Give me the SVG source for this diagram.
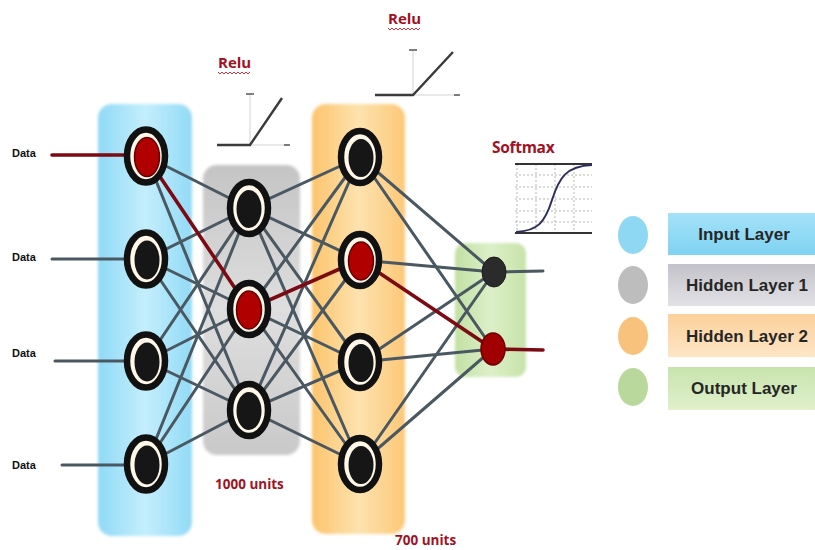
<svg xmlns="http://www.w3.org/2000/svg" width="815" height="550" viewBox="0 0 815 550">
  <defs>
    <linearGradient id="gBlue" x1="0" y1="0" x2="1" y2="0">
      <stop offset="0" stop-color="#8fd9f6"/>
      <stop offset="0.5" stop-color="#c4eefc"/>
      <stop offset="1" stop-color="#92daf6"/>
    </linearGradient>
    <linearGradient id="gGray" x1="0" y1="0" x2="0" y2="1">
      <stop offset="0" stop-color="#c4c4c4"/>
      <stop offset="0.5" stop-color="#dedede"/>
      <stop offset="1" stop-color="#c9c9c9"/>
    </linearGradient>
    <linearGradient id="gOrange" x1="0" y1="0" x2="1" y2="0">
      <stop offset="0" stop-color="#fcc46c"/>
      <stop offset="0.5" stop-color="#fde2ae"/>
      <stop offset="1" stop-color="#fcc878"/>
    </linearGradient>
    <linearGradient id="gGreen" x1="0" y1="0" x2="1" y2="0">
      <stop offset="0" stop-color="#c2e0a2"/>
      <stop offset="0.5" stop-color="#dcefc8"/>
      <stop offset="1" stop-color="#c6e2a8"/>
    </linearGradient>
    <linearGradient id="lBlue" x1="0" y1="0" x2="0" y2="1">
      <stop offset="0" stop-color="#a4e2f8"/>
      <stop offset="1" stop-color="#7fd2f2"/>
    </linearGradient>
    <linearGradient id="lGray" x1="0" y1="0" x2="0" y2="1">
      <stop offset="0" stop-color="#c2c2c8"/>
      <stop offset="1" stop-color="#e2e2e6"/>
    </linearGradient>
    <linearGradient id="lOrange" x1="0" y1="0" x2="0" y2="1">
      <stop offset="0" stop-color="#fcd09a"/>
      <stop offset="1" stop-color="#fde6c6"/>
    </linearGradient>
    <linearGradient id="lGreen" x1="0" y1="0" x2="0" y2="1">
      <stop offset="0" stop-color="#c8e4ac"/>
      <stop offset="1" stop-color="#e0f0cc"/>
    </linearGradient>
    <filter id="soft" x="-10%" y="-10%" width="120%" height="120%">
      <feGaussianBlur stdDeviation="1.5"/>
    </filter>
  </defs>
  <style>
    .edge { stroke: #4a5862; stroke-width: 3; fill: none; stroke-linecap: round; }
    .hot { stroke: #7c0a12; stroke-width: 3.6; fill: none; stroke-linecap: round; }
    .ring { fill: #fff7e8; stroke: #111; stroke-width: 6.5; }
    .core { fill: #161616; }
    .coreHot { fill: #b00000; stroke: #650000; stroke-width: 1.5; }
    .data { font-family: "Liberation Sans", Arial, sans-serif; font-size: 11px; font-weight: bold; fill: #111; }
    .note { font-family: "Open Sans", "Liberation Sans", sans-serif; font-weight: bold; fill: #a3111f; }
    .legend { font-family: "Liberation Sans", Arial, sans-serif; font-size: 17px; font-weight: bold; fill: #262626; text-anchor: middle; }
    .axis { stroke: #c8c8c8; stroke-width: 0.8; fill: none; }
    .curve { stroke: #3a3a3a; stroke-width: 2.4; fill: none; }
    .grid { stroke: #999; stroke-width: 0.7; stroke-dasharray: 2 2; fill: none; }
    .squig { stroke: #c0202a; stroke-width: 0.9; fill: none; }
  </style>

  <rect width="815" height="550" fill="#ffffff"/>

  <!-- layer panels -->
  <g id="panels">
    <rect id="panel-input" x="98" y="104" width="94" height="432" rx="14" fill="url(#gBlue)" filter="url(#soft)"/>
    <rect id="panel-hidden1" x="203" y="165" width="97" height="290" rx="14" fill="url(#gGray)" filter="url(#soft)"/>
    <rect id="panel-hidden2" x="312" y="104" width="93" height="430" rx="14" fill="url(#gOrange)" filter="url(#soft)"/>
    <rect id="panel-output" x="455" y="243" width="71" height="134" rx="10" fill="url(#gGreen)" filter="url(#soft)"/>
  </g>

  <!-- activation plots -->
  <g id="relu-1">
    <line class="axis" x1="250" y1="95" x2="250" y2="145"/>
    <line class="axis" x1="250" y1="145" x2="288" y2="145"/>
    <line x1="246" y1="94" x2="254" y2="94" stroke="#555" stroke-width="1.5"/>
    <line x1="284" y1="145" x2="290" y2="145" stroke="#555" stroke-width="1.5"/>
    <polyline class="curve" points="217,145 250,145 282,98"/>
  </g>
  <g id="relu-2">
    <line class="axis" x1="413" y1="50" x2="413" y2="95"/>
    <line class="axis" x1="413" y1="95" x2="458" y2="95"/>
    <line x1="409" y1="50" x2="417" y2="50" stroke="#555" stroke-width="1.5"/>
    <line x1="454" y1="95" x2="460" y2="95" stroke="#555" stroke-width="1.5"/>
    <polyline class="curve" points="375,95 413,95 453,52"/>
  </g>
  <g id="softmax-plot">
    <line class="grid" x1="515" y1="175" x2="592" y2="175"/>
    <line class="grid" x1="515" y1="187" x2="592" y2="187"/>
    <line class="grid" x1="515" y1="199" x2="592" y2="199"/>
    <line class="grid" x1="515" y1="211" x2="592" y2="211"/>
    <line class="grid" x1="515" y1="222" x2="592" y2="222"/>
    <line class="grid" x1="517" y1="164" x2="517" y2="233"/>
    <line class="grid" x1="536" y1="164" x2="536" y2="233"/>
    <line class="grid" x1="555" y1="164" x2="555" y2="233"/>
    <line class="grid" x1="574" y1="164" x2="574" y2="233"/>
    <line x1="515" y1="164" x2="592" y2="164" stroke="#333" stroke-width="2"/>
    <line x1="515" y1="233" x2="592" y2="233" stroke="#333" stroke-width="2"/>
    <path d="M516,232 C538,231 545,222 552,200 C559,178 566,166 592,165" stroke="#2e2e5e" stroke-width="2" fill="none"/>
  </g>

  <!-- connectors -->
  <g id="connectors">
    <!-- inputs -->
    <line class="hot" x1="52" y1="155" x2="124" y2="155"/>
    <line class="edge" x1="52" y1="259" x2="124" y2="259"/>
    <line class="edge" x1="55" y1="361" x2="124" y2="361"/>
    <line class="edge" x1="62" y1="465" x2="124" y2="465"/>
    <!-- input to hidden 1 -->
    <line class="edge" x1="146" y1="156" x2="249" y2="208"/>
    <line class="edge" x1="146" y1="156" x2="249" y2="410"/>
    <line class="edge" x1="146" y1="259" x2="249" y2="208"/>
    <line class="edge" x1="146" y1="259" x2="249" y2="309"/>
    <line class="edge" x1="146" y1="259" x2="249" y2="410"/>
    <line class="edge" x1="146" y1="361" x2="249" y2="208"/>
    <line class="edge" x1="146" y1="361" x2="249" y2="309"/>
    <line class="edge" x1="146" y1="361" x2="249" y2="410"/>
    <line class="edge" x1="146" y1="464" x2="249" y2="208"/>
    <line class="edge" x1="146" y1="464" x2="249" y2="309"/>
    <line class="edge" x1="146" y1="464" x2="249" y2="410"/>
    <!-- hidden 1 to hidden 2 -->
    <line class="edge" x1="249" y1="208" x2="360" y2="157"/>
    <line class="edge" x1="249" y1="208" x2="360" y2="260"/>
    <line class="edge" x1="249" y1="208" x2="360" y2="362"/>
    <line class="edge" x1="249" y1="208" x2="360" y2="464"/>
    <line class="edge" x1="249" y1="309" x2="360" y2="157"/>
    <line class="edge" x1="249" y1="309" x2="360" y2="362"/>
    <line class="edge" x1="249" y1="309" x2="360" y2="464"/>
    <line class="edge" x1="249" y1="410" x2="360" y2="157"/>
    <line class="edge" x1="249" y1="410" x2="360" y2="260"/>
    <line class="edge" x1="249" y1="410" x2="360" y2="362"/>
    <line class="edge" x1="249" y1="410" x2="360" y2="464"/>
    <!-- hidden 2 to output -->
    <line class="edge" x1="360" y1="157" x2="494" y2="272"/>
    <line class="edge" x1="360" y1="157" x2="493" y2="349"/>
    <line class="edge" x1="360" y1="260" x2="494" y2="272"/>
    <line class="edge" x1="360" y1="362" x2="494" y2="272"/>
    <line class="edge" x1="360" y1="362" x2="493" y2="349"/>
    <line class="edge" x1="360" y1="464" x2="494" y2="272"/>
    <line class="edge" x1="360" y1="464" x2="493" y2="349"/>
    <!-- outputs -->
    <line class="edge" x1="494" y1="272" x2="543" y2="271"/>
    <line class="hot" x1="493" y1="349" x2="543" y2="350"/>
    <!-- highlighted path -->
    <line class="hot" x1="146" y1="156" x2="249" y2="309"/>
    <line class="hot" x1="249" y1="309" x2="360" y2="260"/>
    <line class="hot" x1="360" y1="260" x2="493" y2="349"/>
  </g>

  <!-- input layer nodes -->
  <g id="in-1"><ellipse class="ring" cx="146" cy="156" rx="19" ry="26.5"/><ellipse class="coreHot" cx="147" cy="157" rx="12.5" ry="19.5"/></g>
  <g id="in-2"><ellipse class="ring" cx="146" cy="259" rx="19" ry="26.5"/><ellipse class="core" cx="147" cy="260" rx="12.5" ry="19.5"/></g>
  <g id="in-3"><ellipse class="ring" cx="146" cy="361" rx="19" ry="26.5"/><ellipse class="core" cx="147" cy="362" rx="12.5" ry="19.5"/></g>
  <g id="in-4"><ellipse class="ring" cx="146" cy="464" rx="19" ry="26.5"/><ellipse class="core" cx="147" cy="465" rx="12.5" ry="19.5"/></g>

  <!-- hidden layer 1 nodes -->
  <g id="h1-1"><ellipse class="ring" cx="249" cy="208" rx="19" ry="26"/><ellipse class="core" cx="249" cy="209" rx="12.5" ry="19"/></g>
  <g id="h1-2"><ellipse class="ring" cx="249" cy="309" rx="19" ry="26"/><ellipse class="coreHot" cx="249" cy="310" rx="12.5" ry="19"/></g>
  <g id="h1-3"><ellipse class="ring" cx="249" cy="410" rx="19" ry="26"/><ellipse class="core" cx="249" cy="411" rx="12.5" ry="19"/></g>

  <!-- hidden layer 2 nodes -->
  <g id="h2-1"><ellipse class="ring" cx="360" cy="157" rx="19" ry="26"/><ellipse class="core" cx="361" cy="158" rx="12.5" ry="19"/></g>
  <g id="h2-2"><ellipse class="ring" cx="360" cy="260" rx="19" ry="26"/><ellipse class="coreHot" cx="361" cy="261" rx="12.5" ry="19"/></g>
  <g id="h2-3"><ellipse class="ring" cx="360" cy="362" rx="19" ry="26"/><ellipse class="core" cx="361" cy="363" rx="12.5" ry="19"/></g>
  <g id="h2-4"><ellipse class="ring" cx="360" cy="464" rx="19" ry="26"/><ellipse class="core" cx="361" cy="465" rx="12.5" ry="19"/></g>

  <!-- output nodes -->
  <g id="out-1"><ellipse cx="494" cy="272" rx="12" ry="15" fill="#2b2b2b" stroke="#1a1a1a" stroke-width="1"/></g>
  <g id="out-2"><ellipse cx="493" cy="349" rx="12" ry="16" fill="#a00000" stroke="#6a0000" stroke-width="1.5"/></g>

  <!-- input labels -->
  <g id="labels-data">
    <text class="data" x="12" y="157">Data</text>
    <text class="data" x="12" y="261">Data</text>
    <text class="data" x="12" y="357">Data</text>
    <text class="data" x="12" y="469">Data</text>
  </g>

  <!-- activation and size notes -->
  <g id="notes">
    <text class="note" x="218" y="68" font-size="15">Relu</text>
    <path class="squig" d="M218,72 l2,2 l2,-2 l2,2 l2,-2 l2,2 l2,-2 l2,2 l2,-2 l2,2 l2,-2 l2,2 l2,-2 l2,2 l2,-2 l2,2 l2,-2"/>
    <text class="note" x="388" y="24" font-size="15">Relu</text>
    <path class="squig" d="M388,28 l2,2 l2,-2 l2,2 l2,-2 l2,2 l2,-2 l2,2 l2,-2 l2,2 l2,-2 l2,2 l2,-2 l2,2 l2,-2 l2,2 l2,-2"/>
    <text class="note" x="492" y="153" font-size="15.5" letter-spacing="-0.3">Softmax</text>
    <text class="note" x="215" y="489" font-size="13.5">1000 units</text>
    <text class="note" x="395" y="545" font-size="13.5">700 units</text>
  </g>

  <!-- legend -->
  <g id="legend">
    <g id="legend-input">
      <ellipse cx="633" cy="235" rx="15" ry="19" fill="#8ed8f4"/>
      <rect x="668" y="213" width="147" height="42" fill="url(#lBlue)"/>
      <text class="legend" x="744" y="240">Input Layer</text>
    </g>
    <g id="legend-hidden1">
      <ellipse cx="633" cy="285" rx="15" ry="19" fill="#bdbdbd"/>
      <rect x="668" y="264" width="147" height="42" fill="url(#lGray)"/>
      <text class="legend" x="747" y="291">Hidden Layer 1</text>
    </g>
    <g id="legend-hidden2">
      <ellipse cx="633" cy="336" rx="15" ry="19" fill="#f9c27c"/>
      <rect x="668" y="314" width="147" height="43" fill="url(#lOrange)"/>
      <text class="legend" x="747" y="342">Hidden Layer 2</text>
    </g>
    <g id="legend-output">
      <ellipse cx="633" cy="387" rx="15" ry="19" fill="#b9d99c"/>
      <rect x="668" y="367" width="147" height="43" fill="url(#lGreen)"/>
      <text class="legend" x="744" y="394">Output Layer</text>
    </g>
  </g>
</svg>
